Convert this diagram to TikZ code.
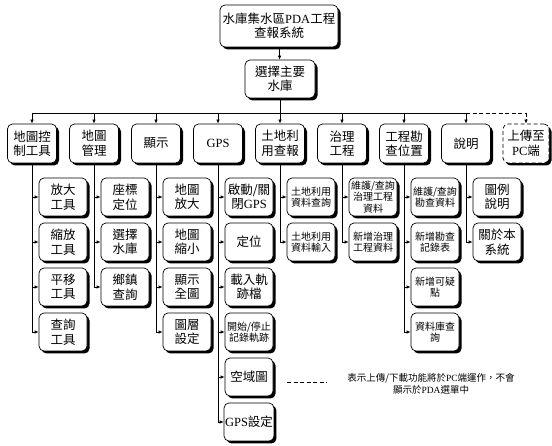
\documentclass[tikz,border=0pt]{standalone}
\usepackage{fontspec}
\setmainfont{Liberation Serif}
\newfontfamily\cjk{Noto Sans CJK TC}
\newcommand\lat[1]{{\rmfamily #1}}
\usetikzlibrary{arrows.meta,shadows}

\begin{document}
\begin{tikzpicture}[x=1pt,y=-1pt,>={Latex[length=4pt,width=3.5pt]},
  box/.style={draw,line width=0.7pt,rounded corners=5pt,fill=white,align=center,inner sep=1pt,
              font=\cjk\fontsize{12.5}{14.5}\selectfont,
              drop shadow={shadow xshift=2.5pt,shadow yshift=-2.5pt,fill=black,opacity=1}},
  main/.style={box,minimum width=49pt,minimum height=39pt},
  sub/.style={box,minimum width=48pt,minimum height=38pt},
  small/.style={font=\cjk\fontsize{10}{11.5}\selectfont},
  link/.style={line width=0.7pt},
  dashline/.style={dash pattern=on 4pt off 2.5pt}]
\useasboundingbox (0,0) rectangle (552,446);

%============================== top ==============================
\node[box,minimum width=118pt,minimum height=42pt] (top) at (279,26) {水庫集水區\lat{PDA}工程\\查報系統};
\node[box,minimum width=70pt,minimum height=38pt] (sel) at (280,79) {選擇主要\\水庫};
\draw[link,->] (top) -- (sel);
\coordinate (bus) at (0,113);

%============================== main menu ==============================
\node[main] (m1) at (32,143.5) {地圖控\\制工具};
\node[main] (m2) at (94,143.5) {地圖\\管理};
\node[main] (m3) at (156,143.5) {顯示};
\node[main] (m4) at (218,143.5) {\lat{GPS}};
\node[main] (m5) at (280,143.5) {土地利\\用查報};
\node[main] (m6) at (342,143.5) {治理\\工程};
\node[main] (m7) at (404,143.5) {工程勘\\查位置};
\node[main] (m8) at (466,143.5) {說明};
\node[main,dashline,minimum width=46pt] (m9) at (526,143.5) {上傳至\\\lat{PC}端};

\draw[link] (sel) -- (sel |- bus);
\draw[link] (m1.north |- bus) -- (m8.north |- bus);
\draw[link,dashline] (m8.north |- bus) -- (m9.north |- bus);
\foreach \i in {1,...,8}{\draw[link,->] (m\i.north |- bus) -- (m\i);}
\draw[link,dashline,->] (m9.north |- bus) -- (m9);

%============================== sub menus ==============================
\node[sub] (s11) at (63,197) {放大\\工具};
\node[sub] (s12) at (63,242) {縮放\\工具};
\node[sub] (s13) at (63,287) {平移\\工具};
\node[sub] (s14) at (63,332) {查詢\\工具};

\node[sub] (s21) at (125,197) {座標\\定位};
\node[sub] (s22) at (125,242) {選擇\\水庫};
\node[sub] (s23) at (125,287) {鄉鎮\\查詢};

\node[sub] (s31) at (187,197) {地圖\\放大};
\node[sub] (s32) at (187,242) {地圖\\縮小};
\node[sub] (s33) at (187,287) {顯示\\全圖};
\node[sub] (s34) at (187,332) {圖層\\設定};

\node[sub] (s41) at (249,197) {啟動/關\\閉\lat{GPS}};
\node[sub] (s42) at (249,242) {定位};
\node[sub] (s43) at (249,287) {載入軌\\跡檔};
\node[sub,small] (s44) at (249,332) {開始/停止\\記錄軌跡};
\node[sub] (s45) at (249,377) {空域圖};
\node[sub] (s46) at (249,422) {\lat{GPS}設定};

\node[sub,small] (s51) at (311,197) {土地利用\\資料查詢};
\node[sub,small] (s52) at (311,242) {土地利用\\資料輸入};

\node[sub,small] (s61) at (373,197) {維護/查詢\\治理工程\\資料};
\node[sub,small] (s62) at (373,242) {新增治理\\工程資料};

\node[sub,small] (s71) at (435,197) {維護/查詢\\勘查資料};
\node[sub,small] (s72) at (435,242) {新增勘查\\記錄表};
\node[sub,small] (s73) at (435,287) {新增可疑\\點};
\node[sub,small] (s74) at (435,332) {資料庫查\\詢};

\node[sub] (s81) at (497,197) {圖例\\說明};
\node[sub] (s82) at (497,242) {關於本\\系統};

\foreach \p/\n in {1/4,2/3,3/4,4/6,5/2,6/2,7/4,8/2}{
  \draw[link] (m\p.south) -- (m\p.south |- s\p\n.west);
  \foreach \k in {1,...,\n}{\draw[link,->] (m\p.south |- s\p\k.west) -- (s\p\k.west);}
}

%============================== legend ==============================
\coordinate (l1) at (287,382);
\coordinate (l2) at (327,382);
\draw[link,dashline] (l1) -- (l2);
\node[font=\cjk\fontsize{9.5}{11.5}\selectfont,align=center] (note) at (431,384)
  {表示上傳/下載功能將於\lat{PC}端運作，不會\\顯示於\lat{PDA}選單中};
\end{tikzpicture}
\end{document}
